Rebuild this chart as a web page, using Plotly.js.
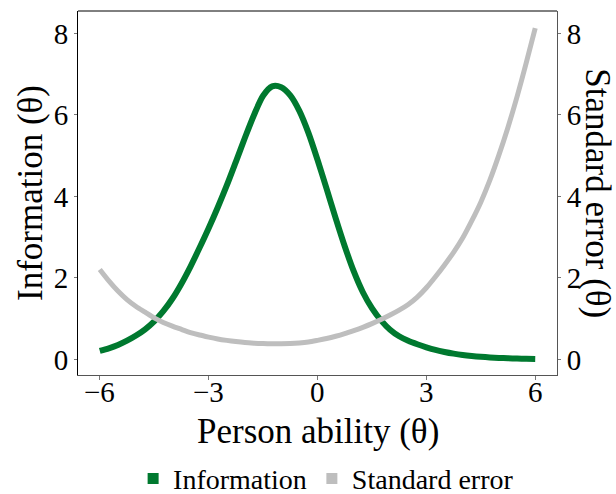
<!DOCTYPE html>
<html>
<head>
<meta charset="utf-8">
<script src="https://cdn.plot.ly/plotly-3.0.1.min.js"></script>
<style>html,body{margin:0;padding:0;background:#fff;}#chart{width:616px;height:494px;}</style>
</head>
<body>
<div id="chart"></div>
<script>
// Person ability (theta) grid
const theta = [-6, -5.75, -5.5, -5.25, -5, -4.75, -4.5, -4.25, -4, -3.75, -3.5, -3.25, -3, -2.75, -2.5, -2.25, -2, -1.75, -1.5, -1.25, -1, -0.75, -0.5, -0.25, 0,
               0.25, 0.5, 0.75, 1, 1.25, 1.5, 1.75, 2, 2.25, 2.5, 2.75, 3, 3.25, 3.5, 3.75, 4, 4.25, 4.5, 4.75, 5, 5.25, 5.5, 5.75, 6];
// Test information
const information = [0.21, 0.275, 0.357, 0.463, 0.589, 0.741, 0.937, 1.185, 1.49, 1.86, 2.28, 2.74, 3.22, 3.73, 4.27, 4.85, 5.44, 6.00, 6.47, 6.70, 6.68, 6.48, 6.10, 5.56, 4.90,
                     4.19, 3.47, 2.78, 2.16, 1.65, 1.26, 0.96, 0.73, 0.57, 0.46, 0.375, 0.30, 0.235, 0.185, 0.144, 0.111, 0.086, 0.0665, 0.052, 0.040, 0.031, 0.0245, 0.019, 0.0151];
// Standard error
const standardError = [2.21, 1.93, 1.68, 1.47, 1.30, 1.16, 1.02, 0.91, 0.82, 0.74, 0.66, 0.60, 0.55, 0.505, 0.47, 0.44, 0.415, 0.40, 0.39, 0.385, 0.385, 0.39, 0.405, 0.43, 0.47,
                       0.515, 0.57, 0.635, 0.71, 0.79, 0.88, 0.98, 1.09, 1.21, 1.35, 1.53, 1.76, 2.03, 2.32, 2.63, 2.98, 3.40, 3.86, 4.40, 5.02, 5.70, 6.45, 7.27, 8.13];
const xTicks = [-6, -3, 0, 3, 6];
const xTickLabels = ['\u22126', '\u22123', '0', '3', '6'];
const yTicks = [0, 2, 4, 6, 8];
const seriesNames = ['Information', 'Standard error'];
const xTitle = 'Person ability (θ)';
const yTitle = 'Information (θ)';
const y2Title = 'Standard error (θ)';

const green = '#00792F';
const grey = '#BEBEBE';
const font = 'Liberation Serif, Times New Roman, serif';

const traces = [
  {x: theta, y: standardError, type: 'scatter', mode: 'lines', name: seriesNames[1], yaxis: 'y2',
   line: {color: grey, width: 5, shape: 'spline', smoothing: 0.8}, showlegend: false},
  {x: theta, y: information, type: 'scatter', mode: 'lines', name: seriesNames[0],
   line: {color: green, width: 6, shape: 'spline', smoothing: 0.8}, showlegend: false},
  {x: [null], y: [null], type: 'scatter', mode: 'markers', name: seriesNames[0],
   marker: {symbol: 'square', size: 11, color: green}},
  {x: [null], y: [null], type: 'scatter', mode: 'markers', name: seriesNames[1],
   marker: {symbol: 'square', size: 11, color: grey}}
];

const tickAnnotations = xTicks.map((v, i) => ({
  text: xTickLabels[i], xref: 'x', yref: 'paper', x: v, y: 0, yshift: -17,
  xanchor: 'center', yanchor: 'middle', showarrow: false,
  font: {size: 29, family: font, color: '#000'}
}));

const yRange = [-0.38, 8.55];
const layout = {
  width: 616, height: 494,
  margin: {l: 78, r: 59, t: 11, b: 119, autoexpand: false},
  paper_bgcolor: '#fff', plot_bgcolor: '#fff',
  font: {family: font, color: '#000'},
  xaxis: {
    range: [-6.6, 6.6], tickvals: xTicks, showticklabels: false, showgrid: false, zeroline: false, automargin: false,
    showline: true, linecolor: '#555', linewidth: 1,
    ticks: 'outside', ticklen: 4, tickcolor: '#777'
  },
  yaxis: {
    range: yRange, tickvals: yTicks, showgrid: false, zeroline: false, automargin: false,
    showline: true, linecolor: '#000', linewidth: 1,
    ticks: 'outside', ticklen: 3, tickcolor: '#777',
    tickfont: {size: 29, family: font, color: '#000'},
    title: {text: yTitle, font: {size: 35, family: font, color: '#000'}, standoff: 0}
  },
  yaxis2: {
    range: yRange, tickvals: yTicks, overlaying: 'y', side: 'right', showgrid: false, zeroline: false, automargin: false,
    showline: true, linecolor: '#555', linewidth: 1,
    ticks: 'outside', ticklen: 3, tickcolor: '#777',
    tickfont: {size: 29, family: font, color: '#000'}
  },
  shapes: [{type: 'line', xref: 'paper', yref: 'paper', x0: 0, x1: 1, y0: 1, y1: 1, line: {color: '#000', width: 1}}],
  annotations: tickAnnotations.concat([
    {text: xTitle, xref: 'paper', yref: 'paper', x: 0.5, y: 0, yshift: -56,
     xanchor: 'center', yanchor: 'middle', showarrow: false,
     font: {size: 35, family: font, color: '#000'}},
    {text: y2Title, xref: 'paper', yref: 'paper', x: 1.085, y: 0.5,
     xanchor: 'center', yanchor: 'middle', textangle: 90, showarrow: false,
     font: {size: 35, family: font, color: '#000'}}
  ]),
  legend: {
    orientation: 'h', x: 0.518, xanchor: 'center', y: -0.285, yanchor: 'middle',
    font: {size: 28, family: font, color: '#000'}, itemwidth: 30, bgcolor: 'rgba(0,0,0,0)'
  }
};

Plotly.newPlot('chart', traces, layout, {displayModeBar: false, staticPlot: true});
</script>
</body>
</html>
